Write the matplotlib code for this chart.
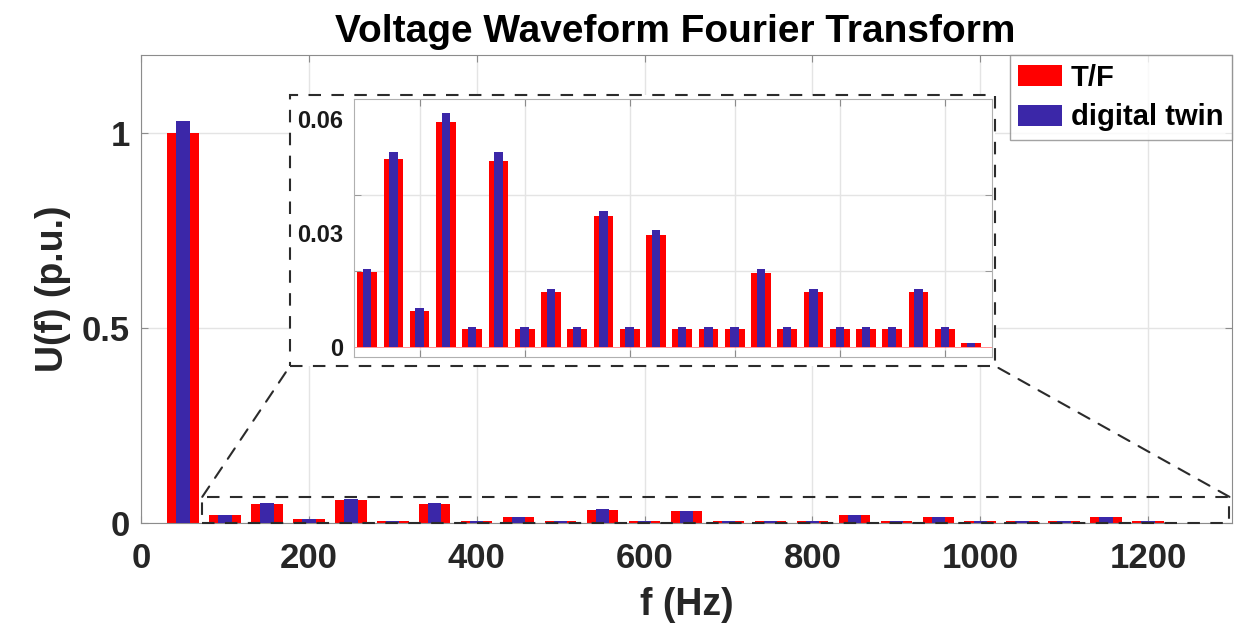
import numpy as np
import matplotlib
matplotlib.use("Agg")
import matplotlib.pyplot as plt
from matplotlib.patches import Rectangle, ConnectionPatch

plt.rcParams['font.family'] = ['Liberation Sans', 'DejaVu Sans']
plt.rcParams['font.weight'] = 'bold'

# harmonic frequencies (Hz)
freqs = [50, 100, 150, 200, 250, 300, 350, 400, 450, 500, 550, 600, 650,
         700, 750, 800, 850, 900, 950, 1000, 1050, 1100, 1150, 1200, 1250]
# T/F measurement (p.u.)
tf_vals = [1.0, 0.0197, 0.0495, 0.0096, 0.0592, 0.0047, 0.0491, 0.0047, 0.0146,
           0.0047, 0.0344, 0.0047, 0.0295, 0.0047, 0.0047, 0.0047, 0.0196, 0.0047,
           0.0146, 0.0047, 0.0047, 0.0047, 0.0146, 0.0047, 0.0012]
# digital twin (p.u.)
dt_vals = [1.03, 0.0205, 0.0514, 0.0102, 0.0616, 0.0052, 0.0514, 0.0052, 0.0154,
           0.0052, 0.0359, 0.0052, 0.0309, 0.0052, 0.0052, 0.0052, 0.0206, 0.0052,
           0.0154, 0.0052, 0.0052, 0.0052, 0.0154, 0.0052, 0.0012]

RED = '#ff0000'
BLUE = '#3b27a8'
SPINE = '#8c8c8c'
GRID = '#e4e4e4'
DASH = (0, (6, 5))

W, H = 1250, 633
fig = plt.figure(figsize=(W / 100, H / 100), dpi=100)

# main axes
ax = fig.add_axes([141 / W, 110 / H, 1091 / W, 468 / H])
ax.set_zorder(0)
ax.bar(freqs, tf_vals, width=37.5, color=RED, label='T/F', zorder=2)
ax.bar(freqs, dt_vals, width=16, color=BLUE, label='digital twin', zorder=3)
ax.set_xlim(0, 1300)
ax.set_ylim(0, 1.2)
ax.set_xticks([0, 200, 400, 600, 800, 1000, 1200])
ax.set_yticks([0, 0.5, 1])
ax.set_yticklabels(['0', '0.5', '1'])
ax.grid(True, color=GRID, linewidth=1, zorder=0)
ax.set_axisbelow(True)
ax.tick_params(direction='in', length=5, top=True, right=True, labelsize=25,
               colors='#262626', color=SPINE)
ax.tick_params(axis='x', pad=14)
ax.tick_params(axis='y', pad=8)
for s in ax.spines.values():
    s.set_color(SPINE)
ax.set_xlabel('f (Hz)', fontsize=27, fontweight='bold', labelpad=8, color='#262626')
ax.set_ylabel('U(f) (p.u.)', fontsize=27, fontweight='bold', labelpad=8, color='#262626')
ax.set_title('Voltage Waveform Fourier Transform', fontsize=28, fontweight='bold',
             pad=9, x=0.49)

leg = ax.legend(loc='upper right', borderaxespad=0, fontsize=21, frameon=True,
                fancybox=False, edgecolor=SPINE, handlelength=1.5, handleheight=0.75,
                handletextpad=0.3, borderpad=0.3, labelspacing=0.4)
leg.get_frame().set_linewidth(1)

# zoom box in main axes
ax.add_patch(Rectangle((73, 0), 1224, 0.067, fill=False, edgecolor='#2b2b2b',
                       linewidth=1.5, linestyle=DASH, clip_on=False, zorder=5))

# white backing for the inset area
rx0, ry0, rx1, ry1 = 290, 95, 995, 366
fig.add_artist(Rectangle((rx0 / W, 1 - ry1 / H), (rx1 - rx0) / W, (ry1 - ry0) / H,
                         transform=fig.transFigure, facecolor='white',
                         edgecolor='none', zorder=1))

# inset axes
axi = fig.add_axes([354 / W, 1 - 357 / H, 638 / W, 258 / H])
axi.set_zorder(2)
axi.bar(freqs[1:], tf_vals[1:], width=37.5, color=RED, zorder=2)
axi.bar(freqs[1:], dt_vals[1:], width=16, color=BLUE, zorder=3)
axi.axhline(0, color=RED, linewidth=0.6, alpha=0.5, zorder=1)
axi.set_xlim(75, 1290)
axi.set_ylim(-0.0026, 0.0653)
axi.set_xticks([200, 400, 600, 800, 1000, 1200])
axi.set_xticklabels([])
axi.set_yticks([0, 0.03, 0.06])
axi.set_yticklabels(['0', '0.03', '0.06'])
axi.set_yticks([0.02, 0.04, 0.06], minor=True)
axi.tick_params(axis='y', which='major', length=0, labelsize=17, pad=8,
                labelcolor='#1a1a1a')
axi.tick_params(axis='y', which='minor', direction='in', length=5, left=True,
                right=True, color=SPINE)
axi.tick_params(axis='x', direction='in', length=5, top=True, color=SPINE)
for lab in axi.get_yticklabels():
    lab.set_fontweight('semibold')
axi.grid(True, axis='x', color=GRID, linewidth=1)
axi.grid(True, axis='y', which='minor', color=GRID, linewidth=1)
axi.set_axisbelow(True)
for s in axi.spines.values():
    s.set_color('#b0b0b0')

# dashed frame around inset and connector lines
fig.add_artist(Rectangle((rx0 / W, 1 - ry1 / H), (rx1 - rx0) / W, (ry1 - ry0) / H,
                         transform=fig.transFigure, fill=False, edgecolor='#2b2b2b',
                         linewidth=1.5, linestyle=DASH, zorder=4))
for xa, xb in [(73, rx0), (1297, rx1)]:
    con = ConnectionPatch(xyA=(xa, 0.067), coordsA=ax.transData,
                          xyB=(xb / W, 1 - ry1 / H), coordsB=fig.transFigure,
                          color='#2b2b2b', linewidth=1.5, linestyle=DASH)
    con.set_zorder(4)
    fig.add_artist(con)

fig.savefig('out.png', dpi=100)
